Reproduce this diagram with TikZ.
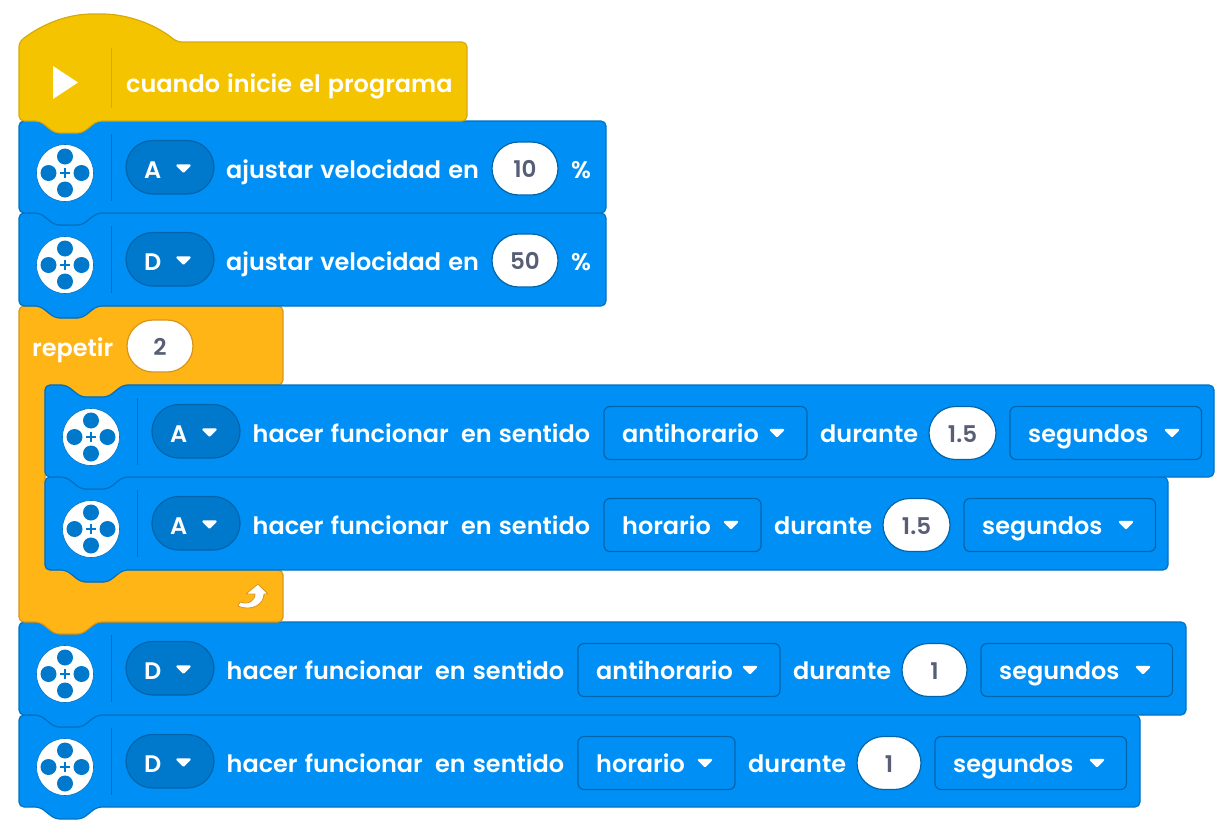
\documentclass[tikz,border=0pt]{standalone}
\usepackage{fontspec}
\setmainfont{Poppins SemiBold}[WordSpace=1.25]
\definecolor{blueF}{HTML}{0090F5}
\definecolor{blueS}{HTML}{0071C2}
\definecolor{blueD}{HTML}{0078CC}
\definecolor{blueE}{HTML}{0064AB}
\definecolor{yelF}{HTML}{F5C400}
\definecolor{yelS}{HTML}{D6AA0A}
\definecolor{oraF}{HTML}{FFB515}
\definecolor{oraS}{HTML}{D9951A}
\definecolor{valT}{HTML}{575E75}
\tikzset{
  x=1pt,y=-1pt,
  blueblock/.style={fill=blueF,draw=blueS,line width=1.2pt,rounded corners=5pt},
  yelblock/.style={fill=yelF,draw=yelS,line width=1.2pt,rounded corners=5pt},
  orablock/.style={fill=oraF,draw=oraS,line width=1.2pt,rounded corners=5pt},
  lbl/.style={text=white,anchor=base west,inner sep=0pt,font=\fontsize{23.95}{28}\selectfont},
  val/.style={text=valT,anchor=base,inner sep=0pt,font=\fontsize{23}{28}\selectfont},
  pillshape/.style={fill=blueD,draw=blueE,line width=1.2pt},
  valshape/.style={fill=white,draw=blueE,line width=1.2pt},
  valora/.style={fill=white,draw=oraS,line width=1.2pt},
  ddshape/.style={draw=blueE,line width=1.2pt,rounded corners=6pt},
  sepline/.style={draw=blueS,line width=.8pt},
  tri/.style={fill=white,draw=white,line width=2.4pt,line join=round}
}
\newcounter{nn}
\newcommand{\blk}[5]{\draw[#5] (#1,#2) -- ({#1+21},#2) -- ({#1+36},{#2+12}) -- ({#1+63},{#2+12}) -- ({#1+78},#2) -- (#3,#2) -- (#3,#4) -- ({#1+78},#4) -- ({#1+63},{#4+12}) -- ({#1+36},{#4+12}) -- ({#1+21},#4) -- (#1,#4) -- cycle;}
\newcommand{\lbl}[3]{\stepcounter{nn}\node[lbl] (t\thenn) at ({#1},{#2+9}) {#3};}
\newcommand{\vallbl}[3]{\stepcounter{nn}\node[val] (t\thenn) at ({#1},{#2+9}) {#3};}
\newcommand{\tridown}[2]{\filldraw[tri] ({#1-6},{#2-3}) -- ({#1+6},{#2-3}) -- ({#1},{#2+3}) -- cycle;}
\newcommand{\stadium}[5]{% x0 x1 y0 y1 style
  \pgfmathsetmacro{\xa}{#1}\pgfmathsetmacro{\xb}{#2}\pgfmathsetmacro{\ya}{#3}\pgfmathsetmacro{\yb}{#4}%
  \pgfmathsetmacro{\rr}{(\yb-\ya)/2}\pgfmathsetmacro{\kk}{.448*\rr}%
  \draw[#5] ({\xa+\rr},\ya) -- ({\xb-\rr},\ya)
    .. controls ({\xb-\kk},\ya) and (\xb,{\ya+\kk}) .. (\xb,{\ya+\rr})
    .. controls (\xb,{\yb-\kk}) and ({\xb-\kk},\yb) .. ({\xb-\rr},\yb)
    -- ({\xa+\rr},\yb)
    .. controls ({\xa+\kk},\yb) and (\xa,{\yb-\kk}) .. (\xa,{\ya+\rr})
    .. controls (\xa,{\ya+\kk}) and ({\xa+\kk},\ya) .. ({\xa+\rr},\ya) -- cycle;
}
\newcommand{\icon}[2]{%
  \filldraw[fill=white,draw=blueS,line width=.6pt] ({#1},{#2}) circle (28.5);
  \fill[blueD] ({#1},{#2-16.5}) circle (8) ({#1-16.5},{#2}) circle (8) ({#1+16.5},{#2}) circle (8) ({#1},{#2+16.5}) circle (8);
  \draw[blueD,line width=2.4pt] ({#1-5},{#2}) -- ({#1+5},{#2}) ({#1},{#2-5}) -- ({#1},{#2+5});
}
\newcommand{\motor}[3]{% x0 y0 letter
  \draw[sepline] ({#1+92},{#2+13}) -- ({#1+92},{#2+80});
  \icon{#1+46}{#2+52}
  \stadium{#1+107}{#1+195}{#2+19.5}{#2+73}{pillshape}
  \lbl{#1+125}{#2+48}{#3}
  \tridown{#1+164.5}{#2+47.5}
}
\newcommand{\valpill}[4]{% x0 x1 cy text
  \stadium{#1}{#2}{#3-26.5}{#3+26.5}{valshape}
  \vallbl{(#1+#2)/2}{#3}{#4}
}
\newcommand{\dd}[6]{% x0 x1 cy textx text trix
  \draw[ddshape] ({#1},{#3-26.5}) rectangle ({#2},{#3+26.5});
  \lbl{#4}{#3}{#5}
  \tridown{#6}{#3}
}
\newcommand{\run}[8]{% y0 x0 letter ddright word valx value secdd
  \motor{#2}{#1}{#3}
  \lbl{#2+207.5}{#1+48}{hacer funcionar}
  \lbl{#2+416}{#1+48}{en sentido}
  \dd{#2+559}{#4}{#1+48}{#2+577}{#5}{#4-30}
  \lbl{#4+13}{#1+48}{durante}
  \valpill{#6}{#8-14}{#1+48}{#7}
  \dd{#8}{#8+191.5}{#1+48}{#8+18}{segundos}{#8+162}
}
\begin{document}
\begin{tikzpicture}
\useasboundingbox (0,0) rectangle (1232,833);
% blocks, lowest first
\blk{19}{715}{1140}{807}{blueblock}
\blk{19}{622}{1186}{715}{blueblock}
\draw[orablock] (19,306) -- (40,306) -- (55,318) -- (82,318) -- (97,306) -- (283,306) -- (283,385) -- (123,385) -- (108,397) -- (81,397) -- (66,385) -- (45,385) -- (45,570) -- (66,570) -- (81,582) -- (108,582) -- (123,570) -- (283,570) -- (283,622) -- (97,622) -- (82,634) -- (55,634) -- (40,622) -- (19,622) -- cycle;
\blk{45}{477}{1168}{570}{blueblock}
\blk{45}{385}{1214}{477}{blueblock}
\blk{19}{213}{606}{306}{blueblock}
\blk{19}{121}{606}{213}{blueblock}
\draw[yelblock] (19,42) .. controls (42,24) and (68,14) .. (97,14) .. controls (127,14) and (155,24) .. (177,42) -- (467,42) -- (467,121) -- (97,121) -- (82,133) -- (55,133) -- (40,121) -- (19,121) -- cycle;
% hat
\fill[white] (53,66) -- (78,82.5) -- (53,99) -- cycle;
\draw[yelS,line width=.8pt] (111,48) -- (111,108);
\lbl{126}{83}{cuando inicie el programa}
% set speed
\motor{19}{121}{A}
\lbl{226}{169}{ajustar velocidad en}
\valpill{492}{558}{168.5}{10}
\lbl{571}{169}{\%}
\motor{19}{213}{D}
\lbl{226}{261}{ajustar velocidad en}
\valpill{492}{558}{260.5}{50}
\lbl{571}{261}{\%}
% repeat
\lbl{32}{347}{repetir}
\stadium{127}{193}{320}{372}{valora}
\vallbl{160}{346}{2}
\draw[fill=white,draw=oraS,line width=.8pt,line join=round] (258,584) -- (268,594) -- (264,594) .. controls (264,604) and (252,612) .. (238,606) -- (240,602) .. controls (248,605) and (255,601) .. (255,594) -- (246,594) -- cycle;
% runs
\run{385}{45}{A}{807}{antihorario}{929}{1.5}{1010}
\run{477}{45}{A}{761}{horario}{883}{1.5}{964}
\run{622}{19}{D}{780}{antihorario}{902}{1}{981}
\run{715}{19}{D}{735}{horario}{857}{1}{935}
\end{tikzpicture}
\end{document}
